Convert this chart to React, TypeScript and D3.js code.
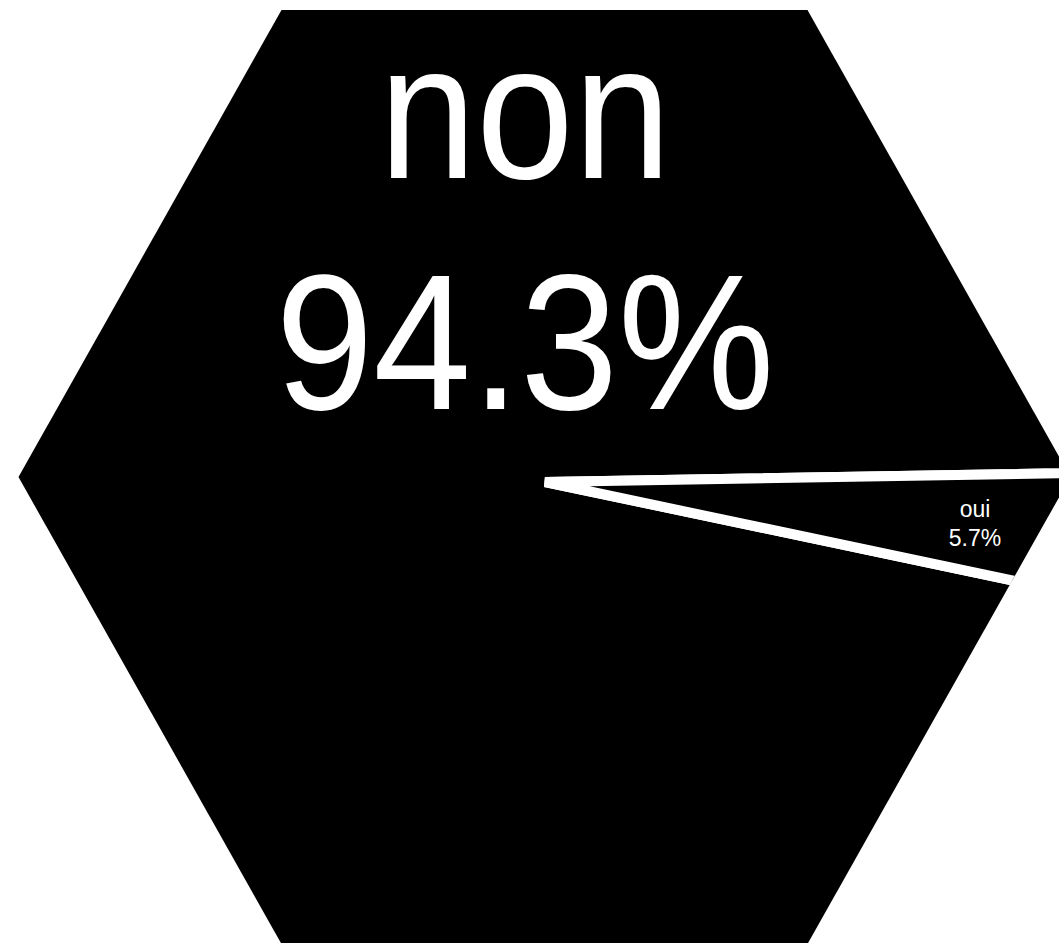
import React from "react";
import * as d3 from "d3";

const categories = ["non", "oui"];
const values = [94.3, 5.7];

const W = 1059;
const H = 943;
const HEX_CX = 544.5;
const HEX_CY = 477;
const HEX_RX = 526;
const HEX_RY = 467;
const PIE_CX = 545;
const PIE_CY = 482;
const Y_SQUASH = 0.614;
const START = (108.94 * Math.PI) / 180;

export default function App() {
  const total = d3.sum(values);
  const pie = d3
    .pie<number>()
    .sort(null)
    .startAngle(START)
    .endAngle(START + 2 * Math.PI);
  const arcs = pie(values);
  const arc = d3.arc<d3.PieArcDatum<number>>().innerRadius(0).outerRadius(3000);
  const labelArc = d3.arc<d3.PieArcDatum<number>>().innerRadius(437).outerRadius(437);

  const hexPts = d3.range(6).map((i) => {
    const a = (i * Math.PI) / 3;
    return [
      HEX_CX + HEX_RX * Math.cos(a),
      HEX_CY + (HEX_RY * Math.sin(a)) / Math.sin(Math.PI / 3),
    ];
  });
  const hexPath = "M" + hexPts.map((p) => p.join(",")).join("L") + "Z";

  const fmt = (v: number) => ((v / total) * 100).toFixed(1) + "%";
  const small = arcs[1];
  const [lx, ly] = labelArc.centroid(small);
  const slx = PIE_CX + lx - 2;
  const sly = PIE_CY + ly * Y_SQUASH;

  const big = (x: number, y: number) => `translate(${x},${y}) scale(1,1.1) translate(${-x},${-y})`;

  return (
    <svg
      width={W}
      height={H}
      style={{ position: "absolute", left: 0, top: 0, background: "#fff" }}
      fontFamily="'Liberation Sans', Arial, Helvetica, sans-serif"
    >
      <defs>
        <clipPath id="hex">
          <path d={hexPath} />
        </clipPath>
      </defs>
      <g clipPath="url(#hex)">
        <g transform={`translate(${PIE_CX},${PIE_CY}) scale(1,${Y_SQUASH})`}>
          {arcs.map((a, i) => (
            <path
              key={categories[i]}
              d={arc(a) || ""}
              fill="#000"
              stroke="#fff"
              strokeWidth={10}
              vectorEffect="non-scaling-stroke"
            />
          ))}
        </g>
      </g>
      <g fill="#fff" textAnchor="middle">
        <text x={525} y={178} fontSize={175} transform={big(525, 178)}>
          {categories[0]}
        </text>
        <text x={525} y={409} fontSize={176} transform={big(525, 409)}>
          {fmt(values[0])}
        </text>
        <text x={slx} y={sly - 5} fontSize={23}>
          {categories[1]}
        </text>
        <text x={slx} y={sly + 24} fontSize={23}>
          {fmt(values[1])}
        </text>
      </g>
    </svg>
  );
}
